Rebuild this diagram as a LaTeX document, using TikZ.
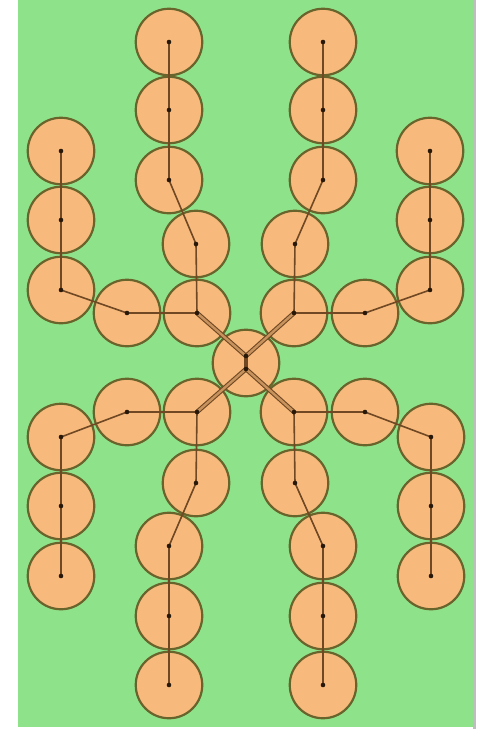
\documentclass[tikz,border=0pt]{standalone}
\definecolor{bg}{RGB}{142,227,138}
\definecolor{ball}{RGB}{248,186,124}
\definecolor{rim}{RGB}{104,100,44}
\definecolor{link}{RGB}{112,72,36}
\definecolor{dotc}{RGB}{40,24,10}
\definecolor{edgegray}{RGB}{190,190,190}
\tikzset{
  ballnode/.style={circle, draw=rim, line width=2.2pt, fill=ball, minimum size=66.5pt, inner sep=0pt},
  linkline/.style={draw=link, line width=1.6pt},
  dbl/.style={draw=link, line width=1.1pt, double=ball!65!link, double distance=2.4pt},
  dotmark/.style={fill=dotc}
}
\begin{document}
\begin{tikzpicture}[x=1pt,y=-1pt]
\useasboundingbox (0,0) rectangle (488,729);
\fill[white] (0,0) rectangle (488,729);
\fill[bg] (18,0) rectangle (473,727);
\fill[edgegray] (473,0) rectangle (476,729);
% ---- circles
\foreach \n/\x/\y in {
  a1/169/42, a2/169/110, a3/169/180, a4/196/244, a5/197/313,
  b1/61/151, b2/61/220, b3/61/290, b4/127/313,
  c1/323/42, c2/323/110, c3/323/180, c4/295/244, c5/294/313,
  d1/430/151, d2/430/220, d3/430/290, d4/365/313,
  e1/169/685, e2/169/616, e3/169/546, e4/196/483, e5/197/412,
  f1/61/576, f2/61/506, f3/61/437, f4/127/412,
  g1/323/685, g2/323/616, g3/323/546, g4/295/483, g5/294/412,
  h1/431/576, h2/431/506, h3/431/437, h4/365/412,
  m/246/363}
  \node[ballnode] (\n) at (\x,\y) {};
\coordinate (mt) at (246,356);
\coordinate (mb) at (246,369);
% ---- links
\draw[linkline] (a1.center) -- (a2.center) -- (a3.center) -- (a4.center) -- (a5.center);
\draw[linkline] (b1.center) -- (b2.center) -- (b3.center) -- (b4.center) -- (a5.center);
\draw[linkline] (c1.center) -- (c2.center) -- (c3.center) -- (c4.center) -- (c5.center);
\draw[linkline] (d1.center) -- (d2.center) -- (d3.center) -- (d4.center) -- (c5.center);
\draw[linkline] (e1.center) -- (e2.center) -- (e3.center) -- (e4.center) -- (e5.center);
\draw[linkline] (f1.center) -- (f2.center) -- (f3.center) -- (f4.center) -- (e5.center);
\draw[linkline] (g1.center) -- (g2.center) -- (g3.center) -- (g4.center) -- (g5.center);
\draw[linkline] (h1.center) -- (h2.center) -- (h3.center) -- (h4.center) -- (g5.center);
\draw[dbl] (a5.center) -- (mt);
\draw[dbl] (c5.center) -- (mt);
\draw[dbl] (e5.center) -- (mb);
\draw[dbl] (g5.center) -- (mb);
\draw[draw=link, line width=3.2pt] (mt) -- (mb);
% ---- dots
\foreach \n in {a1,a2,a3,a4,a5,b1,b2,b3,b4,c1,c2,c3,c4,c5,d1,d2,d3,d4,
                e1,e2,e3,e4,e5,f1,f2,f3,f4,g1,g2,g3,g4,g5,h1,h2,h3,h4}
  \fill[dotmark] (\n.center) circle (2.3pt);
\fill[dotmark] (mt) circle (2.3pt);
\fill[dotmark] (mb) circle (2.3pt);
\end{tikzpicture}
\end{document}
